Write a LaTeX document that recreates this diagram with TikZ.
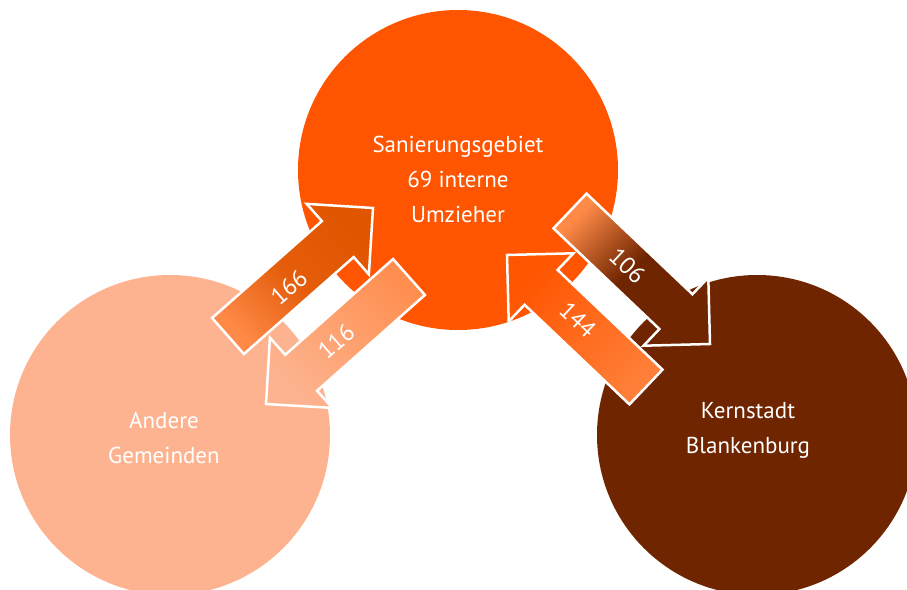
\documentclass[tikz,border=0pt]{standalone}
\usepackage{fontspec}
\setmainfont{PT Sans}
\usetikzlibrary{calc,positioning}

\definecolor{sanorange}{HTML}{FF5500}
\definecolor{anderesalmon}{HTML}{FDB38F}
\definecolor{kernbrown}{HTML}{6E2500}
\definecolor{lightorange}{HTML}{FF8A48}
\definecolor{darkorange}{HTML}{E05500}

\newcommand{\shaftw}{24pt}
\newcommand{\headlen}{47pt}

% block arrow from tail #2 to tip #3
\newcommand{\flowarrow}[3]{%
  \coordinate (hb) at ($(#3)!\headlen!(#2)$);
  \draw[flow,#1] ($(#2)!\shaftw!90:(#3)$) -- ($(hb)!\shaftw!90:(#3)$)
    -- ($(hb)!\headlen!90:(#3)$) -- (#3) -- ($(hb)!\headlen!-90:(#3)$)
    -- ($(hb)!\shaftw!-90:(#3)$) -- ($(#2)!\shaftw!-90:(#3)$) -- cycle;
}

\begin{document}
\begin{tikzpicture}[
        x=1pt, y=-1pt,
        place/.style={circle, minimum size=320pt, inner sep=0pt},
        placetext/.style={text=white, align=center, inner sep=0pt, font=\fontsize{23}{35}\selectfont},
        flow/.style={draw=white, line width=2.5pt, line join=miter, shading=axis},
        number/.style={text=white, inner sep=0pt, font=\fontsize{24}{24}\selectfont}
    ]
    \useasboundingbox (0,0) rectangle (907,589);

    % Places
    \node[place, fill=sanorange] (san) at (458,170) {};
    \node[place, fill=anderesalmon] (andere) at (170,435) {};
    \node[place, fill=kernbrown] (kern) at (757,435) {};

    \node[placetext] (santext) at ([yshift=-9pt]san.center) {Sanierungsgebiet\\69 interne\\Umzieher};
    \node[placetext] (anderetext) at ([xshift=-6pt,yshift=-3pt]andere.center) {Andere\\Gemeinden};
    \node[placetext] (kerntext) at ([xshift=-9pt,yshift=5pt]kern.center) {Kernstadt\\Blankenburg};

    % Arrow ends
    \coordinate (t166) at (228,336);
    \coordinate (h166) at (373,208);
    \coordinate (t116) at (409,277);
    \coordinate (h116) at (266,404);
    \coordinate (t144) at (646,387);
    \coordinate (h144) at (507,255);
    \coordinate (t106) at (570,211);
    \coordinate (h106) at (710,344);

    % Flows
    \flowarrow{bottom color=lightorange, top color=darkorange, middle color=darkorange!85!lightorange, shading angle=-45}{t166}{h166}
    \flowarrow{top color=lightorange!90!anderesalmon, bottom color=anderesalmon, shading angle=-45}{t116}{h116}
    \flowarrow{bottom color=lightorange!80!sanorange, top color=sanorange, shading angle=45}{t144}{h144}
    \flowarrow{top color=lightorange, bottom color=kernbrown, middle color=kernbrown, shading angle=45}{t106}{h106}

    % Numbers
    \node[number, rotate=41] (n166) at ([yshift=-5pt]$(t166)!0.42!(h166)$) {166};
    \node[number, rotate=41] (n116) at ($(t116)!0.51!(h116)$) {116};
    \node[number, rotate=-43] (n106) at ($(t106)!0.41!(h106)$) {106};
    \node[number, rotate=-43] (n144) at ([yshift=3pt]$(t144)!0.49!(h144)$) {144};

\end{tikzpicture}
\end{document}
